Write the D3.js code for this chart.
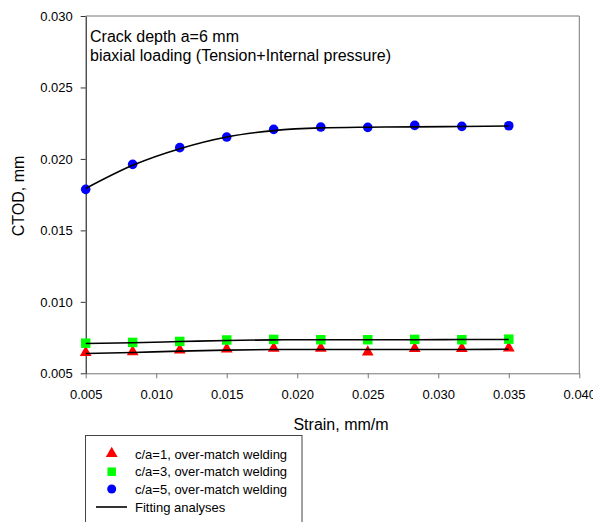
<!DOCTYPE html>
<html>
<head>
<meta charset="utf-8">
<script src="https://cdn.jsdelivr.net/npm/d3@7"></script>
<style>
  body { margin: 0; background: #fff; }
  text { font-family: Arial, "Liberation Sans", sans-serif; fill: #000; }
</style>
</head>
<body>
<div id="viz"></div>
<script>
// strain values (mm/m) shared by every series
var strain = [0.005, 0.00833, 0.01167, 0.015, 0.01833, 0.02167, 0.025, 0.02833, 0.03167, 0.035]

// measured CTOD (mm)
var ctodCa1 = [0.00642, 0.00647, 0.00659, 0.00666, 0.00671, 0.00671, 0.00645, 0.00669, 0.00669, 0.00673]
var ctodCa3 = [0.00711, 0.00716, 0.00723, 0.00733, 0.00737, 0.00735, 0.00735, 0.00737, 0.00735, 0.00739]
var ctodCa5 = [0.01787, 0.01962, 0.02079, 0.02153, 0.02207, 0.02223, 0.02221, 0.02235, 0.02228, 0.02232]

// fitted curves (mm)
var fitCa1 = [0.00638, 0.00646, 0.00655, 0.00662, 0.00666, 0.00667, 0.00667, 0.00667, 0.00667, 0.00668]
var fitCa3 = [0.00708, 0.00714, 0.00722, 0.00730, 0.00734, 0.00735, 0.00735, 0.00735, 0.00736, 0.00737]
var fitCa5 = [0.01793, 0.01955, 0.02071, 0.02153, 0.02198, 0.02217, 0.02222, 0.02224, 0.02227, 0.02230]

var xTicks = [0.005, 0.010, 0.015, 0.020, 0.025, 0.030, 0.035, 0.040]
var yTicks = [0.005, 0.010, 0.015, 0.020, 0.025, 0.030]

var legendLabels = ["c/a=1, over-match welding", "c/a=3, over-match welding", "c/a=5, over-match welding", "Fitting analyses"]

var width = 593, height = 522
var plot = {left: 85.7, right: 579.3, top: 16, bottom: 373.3}

var svg = d3.select("#viz")
  .append("svg")
    .attr("width", width)
    .attr("height", height)

// scales
var xScale = d3.scaleLinear().domain([0.005, 0.040]).range([plot.left, plot.right])
var yScale = d3.scaleLinear().domain([0.005, 0.030]).range([plot.bottom, plot.top])

// frame (top + right)
svg.append("path")
  .attr("d", `M${plot.left},${plot.top}H${plot.right}V${plot.bottom}`)
  .attr("fill", "none")
  .attr("stroke", "#777")
  .attr("stroke-width", 1)

// x axis
var xAxis = svg.append("g")
  .attr("transform", "translate(0," + plot.bottom + ")")
  .call(d3.axisBottom(xScale).tickValues(xTicks).tickFormat(d3.format(".3f"))
    .tickSize(5).tickSizeOuter(0).tickPadding(11))
xAxis.select(".domain").attr("stroke", "#777")
xAxis.selectAll(".tick line").attr("stroke", "#777")
xAxis.selectAll("text").style("font-size", "13px").attr("fill", "#000")

// y axis
var yAxis = svg.append("g")
  .attr("transform", "translate(" + plot.left + ",0)")
  .call(d3.axisLeft(yScale).tickValues(yTicks).tickFormat(d3.format(".3f"))
    .tickSize(5).tickSizeOuter(0).tickPadding(8))
yAxis.select(".domain").attr("stroke", "#000")
yAxis.selectAll(".tick line").attr("stroke", "#333")
yAxis.selectAll("text").style("font-size", "13px").attr("fill", "#000")

// axis titles
svg.append("text")
  .attr("x", 341).attr("y", 430)
  .attr("text-anchor", "middle")
  .style("font-size", "16px")
  .text("Strain, mm/m")

svg.append("text")
  .attr("transform", "translate(24,196) rotate(-90)")
  .attr("text-anchor", "middle")
  .style("font-size", "16px")
  .text("CTOD, mm")

// annotation
svg.append("text").attr("x", 90).attr("y", 41.5).style("font-size", "16px").text("Crack depth a=6 mm")
svg.append("text").attr("x", 90).attr("y", 60.5).style("font-size", "16px").text("biaxial loading (Tension+Internal pressure)")

// markers
var tri = d3.symbol().type(d3.symbolTriangle).size(60)
var sq = d3.symbol().type(d3.symbolSquare).size(90)

svg.append("g").selectAll("path")
  .data(strain.map(function(s, i) { return [s, ctodCa1[i]] }))
  .enter().append("path")
  .attr("d", tri)
  .attr("transform", function(d) { return "translate(" + xScale(d[0]) + "," + (yScale(d[1]) - 0.5) + ")" })
  .attr("fill", "#ff0000")

svg.append("g").selectAll("path")
  .data(strain.map(function(s, i) { return [s, ctodCa3[i]] }))
  .enter().append("path")
  .attr("d", sq)
  .attr("transform", function(d) { return "translate(" + xScale(d[0]) + "," + yScale(d[1]) + ")" })
  .attr("fill", "#00ff00")

svg.append("g").selectAll("circle")
  .data(strain.map(function(s, i) { return [s, ctodCa5[i]] }))
  .enter().append("circle")
  .attr("cx", function(d) { return xScale(d[0]) })
  .attr("cy", function(d) { return yScale(d[1]) })
  .attr("r", 4.8)
  .attr("fill", "#0000ff")

// fitting lines (drawn on top of the markers)
var line = d3.line()
  .x(function(d) { return xScale(d[0]) })
  .y(function(d) { return yScale(d[1]) })
  .curve(d3.curveMonotoneX)

;[fitCa1, fitCa3, fitCa5].forEach(function(fit) {
  svg.append("path")
    .datum(strain.map(function(s, i) { return [s, fit[i]] }))
    .attr("d", line)
    .attr("fill", "none")
    .attr("stroke", "#000")
    .attr("stroke-width", 1.6)
})

// legend
var legend = svg.append("g")
legend.append("rect")
  .attr("x", 85.5).attr("y", 435.5)
  .attr("width", 216.5).attr("height", 100)
  .attr("fill", "#fff")
  .attr("stroke", "#444")

var rowY = [454, 471.7, 489, 507]
legend.append("path").attr("d", tri).attr("fill", "#ff0000")
  .attr("transform", "translate(111.7," + (rowY[0] - 0.5) + ")")
legend.append("path").attr("d", d3.symbol().type(d3.symbolSquare).size(72)).attr("fill", "#00ff00")
  .attr("transform", "translate(111.7," + rowY[1] + ")")
legend.append("circle").attr("cx", 111.7).attr("cy", rowY[2]).attr("r", 4.5).attr("fill", "#0000ff")
legend.append("line")
  .attr("x1", 96).attr("x2", 127).attr("y1", rowY[3]).attr("y2", rowY[3])
  .attr("stroke", "#000").attr("stroke-width", 1.6)

legend.selectAll("text.lab")
  .data(legendLabels)
  .enter().append("text")
  .attr("class", "lab")
  .attr("x", 135)
  .attr("y", function(d, i) { return rowY[i] + 4.7 })
  .style("font-size", "13px")
  .text(function(d) { return d })
</script>
</body>
</html>
